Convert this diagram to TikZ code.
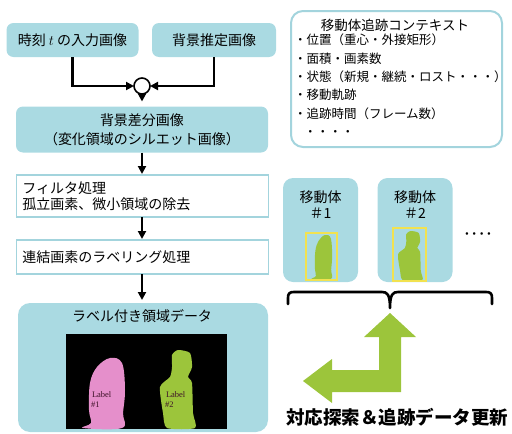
\documentclass[tikz,border=0pt]{standalone}
\usepackage{fontspec}
\setmainfont{Noto Sans CJK JP}
\newfontfamily\labelfont{Liberation Serif}
\usetikzlibrary{arrows.meta}
\definecolor{paleteal}{HTML}{AADAE2}
\definecolor{tealline}{HTML}{A3D4DD}
\definecolor{limegreen}{HTML}{9CC53B}
\definecolor{pinkfig}{HTML}{E58FCB}
\definecolor{yellowbox}{HTML}{F2E250}
\definecolor{labelink}{HTML}{3E1228}

% silhouettes, drawn in a local frame whose origin is the top left corner
\def\blobpath{plot[smooth cycle, tension=0.6] coordinates {(27,0) (39,5) (42,32) (40,55) (39,70) (0,70) (8,65) (6,52) (7,25) (14,9)}}
\def\personpath{plot[smooth cycle, tension=0.4] coordinates {(18,0) (30,3) (32,17) (28,27) (32,33) (33,63) (35,78) (7,78) (3,63) (0,37) (10,27) (12,17) (12,5)}}

\begin{document}
\begin{tikzpicture}[x=1pt,y=-1pt,
  every node/.style={inner sep=0pt, outer sep=0pt},
  tealbox/.style={fill=paleteal, rounded corners=7pt, draw=none},
  whitebox/.style={fill=white, draw=tealline, line width=1.5pt},
  flow/.style={line width=2.4pt, -{Triangle[length=8pt,width=8pt]}},
  txt/.style={font=\fontsize{14}{17}\selectfont, align=center},
  listtxt/.style={font=\fontsize{12.5}{18.4}\selectfont, align=left},
  labtxt/.style={font=\labelfont\fontsize{8.5}{9}\selectfont, text=labelink},
]
\useasboundingbox (0,0) rectangle (512,434);

% input images
\node[tealbox, txt, minimum width=132pt, minimum height=34pt] (input) at (72.5,40) {時刻 $t$ の入力画像};
\node[tealbox, txt, minimum width=124pt, minimum height=34pt] (bg) at (214,40) {背景推定画像};
\node[circle, draw, line width=1.6pt, fill=white, minimum size=16pt] (sub) at (142,86) {};
\draw[flow] (input.south) |- (sub.west);
\draw[flow] (bg.south) |- (sub.east);

% processing chain
\node[tealbox, font=\fontsize{14}{19}\selectfont, align=center, minimum width=252pt, minimum height=46pt] (diff) at (142,129.5) {背景差分画像\\（変化領域のシルエット画像）};
\draw[flow, shorten >=5pt] (sub.south) -- (diff.north);

\node[whitebox, font=\fontsize{14}{16}\selectfont, text width=240pt, align=left, inner xsep=6pt, minimum height=42pt] (filter) at (142.5,196) {フィルタ処理\\孤立画素、微小領域の除去};
\draw[flow, shorten >=1pt] (diff.south) -- (diff.south |- filter.north);

\node[whitebox, font=\fontsize{14}{16}\selectfont, text width=240pt, align=left, inner xsep=6pt, minimum height=34pt] (labeling) at (142.5,257) {連結画素のラベリング処理};
\draw[flow, shorten >=1pt] (diff.south |- filter.south) -- (diff.south |- labeling.north);

% labelled region data
\node[tealbox, rounded corners=12pt, minimum width=250pt, minimum height=129pt] (result) at (143,367.5) {};
\draw[flow, shorten >=3pt] (diff.south |- labeling.south) -- (diff.south |- result.north);
\node[txt] (resulttitle) at (142,316) {ラベル付き領域データ};
\fill[black] (66,334) rectangle (227,429);
\begin{scope}[shift={(83,358)}]
  \fill[pinkfig] \blobpath;
\end{scope}
\begin{scope}[shift={(160,350)}]
  \fill[limegreen] \personpath;
\end{scope}
\node[labtxt, anchor=west] (lab1a) at (92,395) {Label};
\node[labtxt, anchor=west] (lab1b) at (91,405) {\#1};
\node[labtxt, anchor=west] (lab2a) at (166,395) {Label};
\node[labtxt, anchor=west] (lab2b) at (165,405) {\#2};

% tracking context
\node[draw=tealline, line width=2pt, rounded corners=12pt, fill=white, minimum width=211pt, minimum height=136pt] (ctx) at (396.5,79) {};
\node[font=\fontsize{13.5}{16}\selectfont] (ctxtitle) at (395,25) {移動体追跡コンテキスト};
\node[listtxt, anchor=north west] (ctxlist) at (294,34) {・位置（重心・外接矩形）\\・面積・画素数\\・状態（新規・継続・ロスト・・・）\\・移動軌跡\\・追跡時間（フレーム数）\\\hspace{10pt}・・・・};

% moving objects
\node[tealbox, rounded corners=10pt, minimum width=75pt, minimum height=104pt] (obj1) at (320.5,230) {};
\node[tealbox, rounded corners=10pt, minimum width=75pt, minimum height=104pt] (obj2) at (415,230) {};
\node[font=\fontsize{14}{16}\selectfont, align=center] (obj1title) at (320.5,205) {移動体\\＃1};
\node[font=\fontsize{14}{16}\selectfont, align=center] (obj2title) at (415,205) {移動体\\＃2};
\begin{scope}[shift={(312,235)}, xscale=0.48, yscale=0.63]
  \fill[limegreen] \blobpath;
\end{scope}
\begin{scope}[shift={(398,231)}, xscale=0.69, yscale=0.63]
  \fill[limegreen] \personpath;
\end{scope}
\draw[yellowbox, line width=1.3pt] (306,233) rectangle (337,280);
\draw[yellowbox, line width=1.3pt] (393,228) rectangle (426,281);
\node[font=\bfseries\fontsize{12}{14}\selectfont] (more) at (478,236) {····};

% brace over the moving objects: ends turn down, centre point turns down
\coordinate (braceL) at (288,304);
\coordinate (braceR) at (492,304);
\coordinate (braceTip) at (390,308);
\draw[line width=2.6pt, line cap=round, line join=round]
  (braceL) -- (288,298) .. controls (288,293.5) and (289.5,292) .. (294,292)
  -- (382,292) .. controls (387,292) and (390,294) .. (braceTip)
  .. controls (390,294) and (393,292) .. (398,292)
  -- (486,292) .. controls (490.5,292) and (492,293.5) .. (492,298) -- (braceR);

% matching and update arrow
\fill[limegreen] (390,313) -- (416,337) -- (401,337) -- (401,392) -- (332,392) -- (332,403) -- (303,381) -- (332,359) -- (332,370) -- (379,370) -- (379,337) -- (364,337) -- cycle;
\node[font=\bfseries\fontsize{18.5}{20}\selectfont] (caption) at (397,417) {対応探索＆追跡データ更新};
\end{tikzpicture}
\end{document}
